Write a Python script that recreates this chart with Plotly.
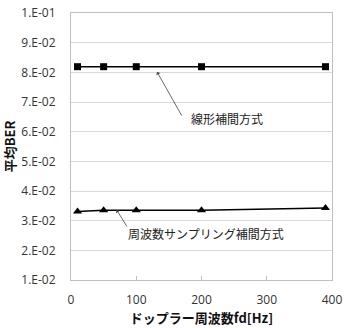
import plotly.graph_objects as go

fd = [10, 50, 100, 200, 390]
ber_linear = [0.0819, 0.0819, 0.0819, 0.0819, 0.0819]
ber_freq = [0.0331, 0.0335, 0.0335, 0.0335, 0.0343]

y_ticks = [0.01, 0.02, 0.03, 0.04, 0.05, 0.06, 0.07, 0.08, 0.09, 0.10]
y_labels = ["1.E-02", "2.E-02", "3.E-02", "4.E-02", "5.E-02", "6.E-02", "7.E-02", "8.E-02", "9.E-02", "1.E-01"]
x_ticks = [0, 100, 200, 300, 400]

label_linear = "線形補間方式"
label_freq = "周波数サンプリング補間方式"
x_title = "ドップラー周波数fd[Hz]"
y_title = "平均BER"

jp = "Noto Sans CJK JP"

fig = go.Figure()
fig.add_trace(go.Scatter(x=fd, y=ber_linear, mode="lines+markers",
                         line=dict(color="black", width=1.5),
                         marker=dict(symbol="square", size=7, color="black")))
fig.add_trace(go.Scatter(x=fd, y=ber_freq, mode="lines+markers",
                         line=dict(color="black", width=1.5),
                         marker=dict(symbol="triangle-up", size=8, color="black")))

# arrows
fig.add_annotation(x=132, y=0.0801, ax=171, ay=0.0649, axref="x", ayref="y",
                   xref="x", yref="y", text="", showarrow=True,
                   arrowhead=1, arrowsize=1, arrowwidth=0.8, arrowcolor="#444")
fig.add_annotation(x=70, y=0.0336, ax=87, ay=0.0276, axref="x", ayref="y",
                   xref="x", yref="y", text="", showarrow=True,
                   arrowhead=1, arrowsize=1, arrowwidth=0.8, arrowcolor="#444")
# labels
fig.add_annotation(x=239, y=0.0646, xref="x", yref="y", text=label_linear,
                   showarrow=False, font=dict(family=jp, size=12, color="#222"))
fig.add_annotation(x=207, y=0.0256, xref="x", yref="y", text=label_freq,
                   showarrow=False, font=dict(family=jp, size=12, color="#222"))

fig.update_layout(
    width=345, height=328,
    margin=dict(l=71, r=13, t=13, b=48),
    paper_bgcolor="white", plot_bgcolor="white",
    showlegend=False,
    font=dict(family=jp, size=12, color="#333"),
)
fig.update_xaxes(range=[0, 400], tickvals=x_ticks, showgrid=False, automargin=False,
                 showline=True, linecolor="#bfbfbf", linewidth=1, mirror=True,
                 ticks="inside", ticklen=4, tickcolor="#bfbfbf",
                 tickfont=dict(family="Open Sans", size=12, color="#333"),
                 ticklabelstandoff=9,
                 title=dict(text=x_title, font=dict(family=jp, size=13, color="#111", weight="bold"), standoff=4),
                 zeroline=False)
fig.update_yaxes(range=[0.01, 0.10], tickvals=y_ticks, ticktext=y_labels, automargin=False,
                 showgrid=True, gridcolor="#d9d9d9", gridwidth=1,
                 showline=True, linecolor="#bfbfbf", linewidth=1, mirror=True,
                 tickfont=dict(family="Open Sans", size=12, color="#333"),
                 ticklabelstandoff=12,
                 title=dict(text=y_title, font=dict(family=jp, size=13, color="#111", weight="bold"), standoff=4),
                 zeroline=False)

fig.write_html("out.html")
